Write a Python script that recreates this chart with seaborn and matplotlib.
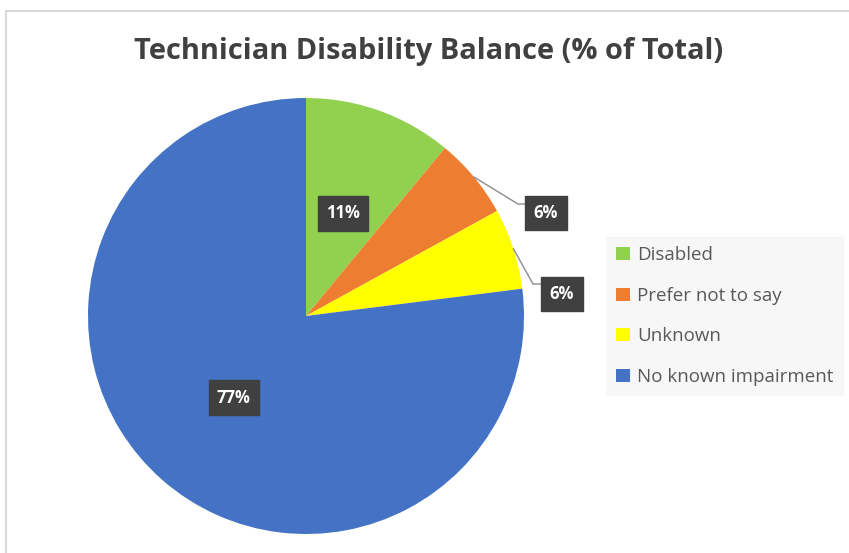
import matplotlib
matplotlib.use("Agg")
import matplotlib.pyplot as plt
from matplotlib.patches import Rectangle, Patch
import numpy as np
import seaborn as sns

# Data
categories = ["Disabled", "Prefer not to say", "Unknown", "No known impairment"]
shares = [11, 6, 6, 77]
colors = ["#92D050", "#ED7D31", "#FFFF00", "#4472C4"]

sns.set_theme(style="white")
plt.rcParams["font.family"] = ["Open Sans", "DejaVu Sans"]

W, H = 849, 553
fig = plt.figure(figsize=(W / 100, H / 100), dpi=100)
fig.patch.set_facecolor("white")

# Chart area border (runs off the right and bottom edges)
fig.patches.append(Rectangle((6 / W, -0.2), 1.2, 1.2 - 11 / H, transform=fig.transFigure,
                             fill=False, edgecolor="#D9D9D9", linewidth=1.5))

# Pie axes
cx, cy, R = 306, 316, 218
ax = fig.add_axes([(cx - R) / W, (H - cy - R) / H, 2 * R / W, 2 * R / H])
wedges, _ = ax.pie(shares, colors=colors, startangle=90, counterclock=False,
                   radius=1.0, wedgeprops=dict(linewidth=0))
ax.set_xlim(-1, 1)
ax.set_ylim(-1, 1)
ax.set_aspect("equal")
ax.axis("off")

box = dict(boxstyle="square,pad=0.5", facecolor="#404040", edgecolor="#404040")
label_kw = dict(color="white", fontsize=12, fontweight="bold", ha="center", va="center",
                bbox=box)

total = sum(shares)
cum = np.cumsum([0] + shares)
mid_angles = [(cum[i] + cum[i + 1]) / 2 / total * 360 for i in range(len(shares))]

def to_xy(angle_deg, r):
    a = np.deg2rad(angle_deg)
    return r * np.sin(a), r * np.cos(a)

# Inside labels
for i in (0, 3):
    x, y = to_xy(mid_angles[i], 0.5)
    ax.text(x, y, f"{shares[i]}%", **label_kw)

# Outside labels with leader lines (elbow point, label centre in axes data units)
outside = {1: ((518 - cx) / R, (cy - 204) / R, (546 - cx) / R, (cy - 213) / R),
           2: ((533 - cx) / R, (cy - 284) / R, (562 - cx) / R, (cy - 294) / R)}
for i, (ex, ey, tx, ty) in outside.items():
    x0, y0 = to_xy(mid_angles[i], 1.0)
    ax.plot([x0, ex, tx - 0.09], [y0, ey, ey], color="#8C8C8C", lw=1.0,
            clip_on=False, zorder=1)
    ax.text(tx, ty, f"{shares[i]}%", **label_kw, zorder=3)

# Title
fig.text(429 / W, 1 - 52 / H, "Technician Disability Balance (% of Total)",
         ha="center", va="center", fontsize=20.9, fontweight="bold", color="#404040")

# Legend
handles = [Patch(facecolor=c, edgecolor="none") for c in colors]
leg = fig.legend(handles, categories, loc="upper left",
                 bbox_to_anchor=(607 / W, 1 - 237 / H), frameon=True,
                 fontsize=13.5, labelcolor="#595959", handlelength=0.7, handleheight=0.7,
                 handletextpad=0.4, labelspacing=1.2, borderpad=0.5, borderaxespad=0,
                 fancybox=False)
leg.get_frame().set_facecolor("#F5F5F5")
leg.get_frame().set_edgecolor("#F5F5F5")

fig.savefig("out.png", dpi=100)
